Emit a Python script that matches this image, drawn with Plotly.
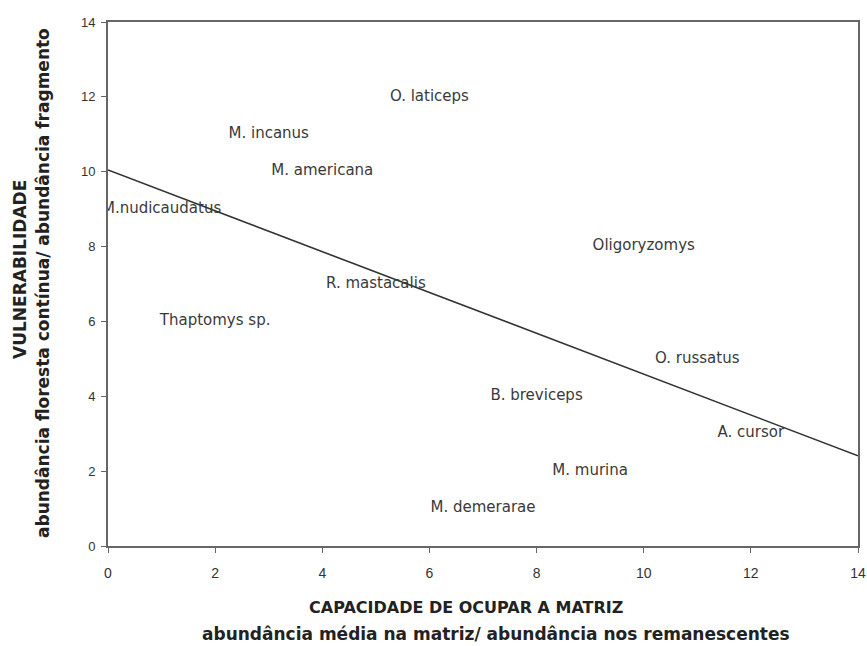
import numpy as np
import plotly.graph_objects as go

species = ["O. laticeps", "M. incanus", "M. americana", "M.nudicaudatus", "R. mastacalis",
           "Thaptomys sp.", "Oligoryzomys", "O. russatus", "B. breviceps", "A. cursor",
           "M. murina", "M. demerarae"]
capacidade = [6, 3, 4, 1, 5, 2, 10, 11, 8, 12, 9, 7]
vulnerabilidade = [12, 11, 10, 9, 7, 6, 8, 5, 4, 3, 2, 1]
tick_vals = [0, 2, 4, 6, 8, 10, 12, 14]

slope, intercept = np.polyfit(capacidade, vulnerabilidade, 1)
line_x = [0, 14]
line_y = [intercept + slope * v for v in line_x]

font_fam = "Liberation Sans, Arial, sans-serif"
title_fam = "DejaVu Sans, sans-serif"

fig = go.Figure()
fig.add_trace(go.Scatter(x=line_x, y=line_y, mode="lines",
                         line=dict(color="#333333", width=1.6), showlegend=False,
                         hoverinfo="skip"))
fig.add_trace(go.Scatter(x=capacidade, y=vulnerabilidade, mode="text", text=species,
                         textposition="middle center",
                         textfont=dict(family="DejaVu Sans, sans-serif", size=15, color="#3a3a3a"),
                         showlegend=False))

axis_common = dict(range=[0, 14], tickvals=tick_vals, showgrid=False, zeroline=False,
                   showline=True, linecolor="#666666", linewidth=2, mirror=True,
                   ticks="outside", ticklen=5, tickcolor="#666666", tickwidth=1,
                   automargin=False)
fig.update_xaxes(**axis_common, ticklabelstandoff=8,
                 tickfont=dict(family=font_fam, size=14, color="#333333"))
fig.update_yaxes(**axis_common, ticklabelstandoff=3,
                 tickfont=dict(family=font_fam, size=13, color="#333333"))

def py(pix):
    return (646 - pix - 100) / 524

def px(pix):
    return (pix - 108) / 750

fig.add_annotation(text="<b>CAPACIDADE DE OCUPAR A MATRIZ</b>", xref="paper", yref="paper",
                   x=px(466), y=py(607), showarrow=False,
                   font=dict(family=title_fam, size=16, color="#222222"),
                   xanchor="center", yanchor="middle")
fig.add_annotation(text="<b>abundância média na matriz/ abundância nos remanescentes</b>",
                   xref="paper", yref="paper", x=px(496), y=py(634), showarrow=False,
                   font=dict(family=title_fam, size=17, color="#222222"),
                   xanchor="center", yanchor="middle")
fig.add_annotation(text="<b>VULNERABILIDADE</b>", xref="paper", yref="paper",
                   x=px(20), y=py(270), textangle=-90, showarrow=False,
                   font=dict(family=title_fam, size=17, color="#222222"),
                   xanchor="center", yanchor="middle")
fig.add_annotation(text="<b>abundância floresta contínua/ abundância fragmento</b>",
                   xref="paper", yref="paper", x=px(43), y=py(283), textangle=-90,
                   showarrow=False,
                   font=dict(family=title_fam, size=17, color="#222222"),
                   xanchor="center", yanchor="middle")

fig.update_layout(width=867, height=646, margin=dict(l=108, r=9, t=22, b=100),
                  plot_bgcolor="white", paper_bgcolor="white")
fig.write_html("out.html", config={"displayModeBar": False},
               post_script="document.body.style.margin='0';")
